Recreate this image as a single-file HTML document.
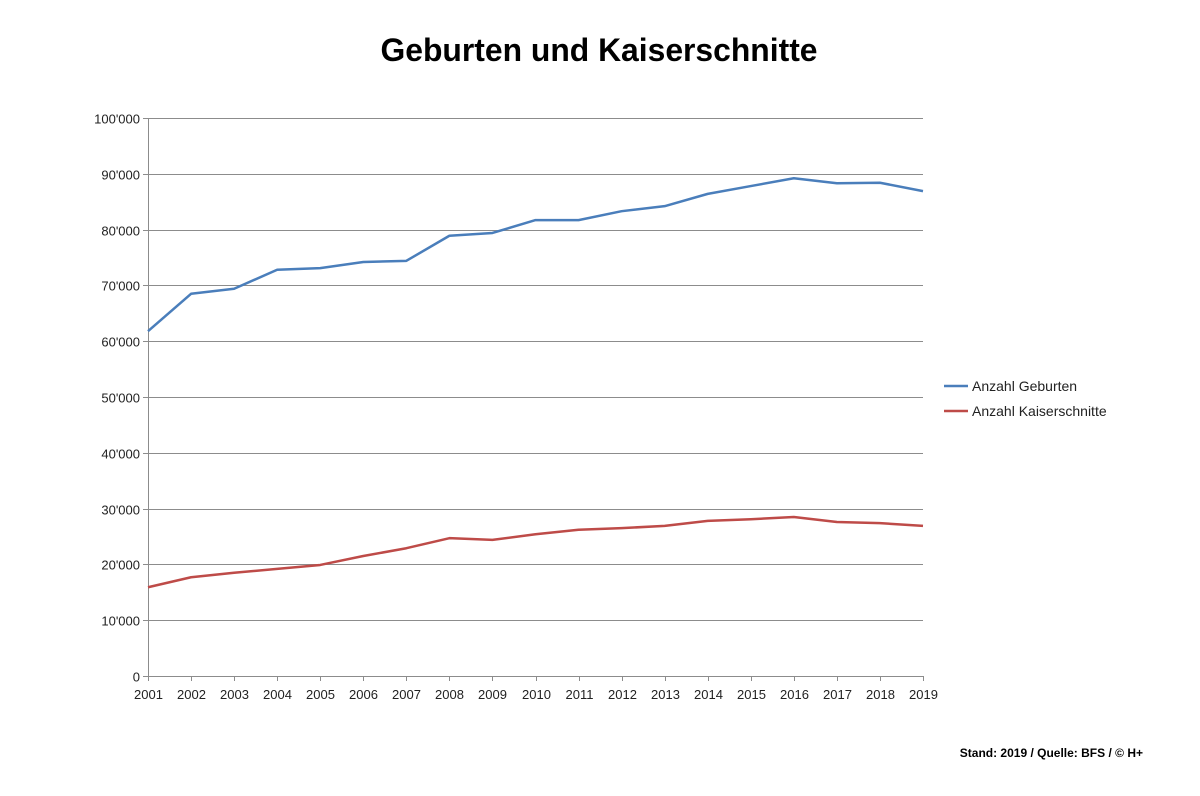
<!DOCTYPE html>
<html><head><meta charset="utf-8"><style>
html,body{margin:0;padding:0;background:#fff;}
svg{display:block;font-family:"Liberation Sans",sans-serif;}
</style></head><body>
<svg id="chart" width="1200" height="796" viewBox="0 0 1200 796">
<text x="599" y="61" text-anchor="middle" font-size="32" font-weight="bold" textLength="437" lengthAdjust="spacingAndGlyphs" fill="#000">Geburten und Kaiserschnitte</text>
<g id="grid"></g><g id="axes"></g><g id="series"></g>
<g>
<line x1="944" y1="386" x2="968" y2="386" stroke="#4a7ebb" stroke-width="2.5"/>
<text x="972" y="391" font-size="14" fill="#222">Anzahl Geburten</text>
<line x1="944" y1="411" x2="968" y2="411" stroke="#be4b48" stroke-width="2.5"/>
<text x="972" y="416" font-size="14" fill="#222">Anzahl Kaiserschnitte</text>
</g>
<text x="1143" y="757" text-anchor="end" font-size="12" font-weight="bold" fill="#000">Stand: 2019 / Quelle: BFS / © H+</text>
</svg>
<script>
const years = [2001,2002,2003,2004,2005,2006,2007,2008,2009,2010,2011,2012,2013,2014,2015,2016,2017,2018,2019];
const births = [61800,68500,69400,72800,73100,74200,74400,78900,79400,81700,81700,83300,84200,86400,87800,89200,88300,88400,86900];
const caesareans = [15900,17700,18500,19200,19900,21500,22900,24700,24400,25400,26200,26500,26900,27800,28100,28500,27600,27400,26900];
const yTicks = [0,10000,20000,30000,40000,50000,60000,70000,80000,90000,100000];
const yTickLabels = ["0","10'000","20'000","30'000","40'000","50'000","60'000","70'000","80'000","90'000","100'000"];

const NS="http://www.w3.org/2000/svg";
const X0=148,X1=923,Y0=676,Y1=118;
const xs=i=>X0+(X1-X0)*i/(years.length-1);
const ys=v=>Y0-(Y0-Y1)*v/100000;
function mk(tag,attrs,parent){const e=document.createElementNS(NS,tag);for(const k in attrs)e.setAttribute(k,attrs[k]);parent.appendChild(e);return e;}
const grid=document.getElementById('grid'),axes=document.getElementById('axes'),ser=document.getElementById('series');
yTicks.forEach((t,i)=>{
  const y=Math.round(ys(t))+0.5;
  if(t>0){const g=mk('line',{x1:X0,x2:X1,y1:y,y2:y,stroke:'#8c8c8c','stroke-width':1},grid);
  
  }
  const tk=mk('line',{x1:X0-5,x2:X0,y1:y,y2:y,stroke:'#8c8c8c'},axes);
  
  
  const tx=mk('text',{x:X0-8,y:y+5,'text-anchor':'end','font-size':13,fill:'#222'},axes);
  tx.textContent=yTickLabels[i];
  
  
});
const ya=mk('line',{x1:X0+0.5,x2:X0+0.5,y1:Y1,y2:Y0,stroke:'#8c8c8c'},axes);


const xa=mk('line',{x1:X0,x2:X1,y1:Y0+0.5,y2:Y0+0.5,stroke:'#8c8c8c'},axes);


years.forEach((yr,i)=>{
  const x=Math.round(xs(i))+0.5;
  const tk=mk('line',{x1:x,x2:x,y1:Y0,y2:Y0+5,stroke:'#8c8c8c'},axes);
  
  
  const tx=mk('text',{x:x,y:Y0+23,'text-anchor':'middle','font-size':13,fill:'#222'},axes);
  tx.textContent=yr;
  
  
});
function line(vals,color,name){
  const p=mk('polyline',{points:vals.map((v,i)=>xs(i)+','+ys(v)).join(' '),fill:'none',stroke:color,'stroke-width':2.5,'stroke-linejoin':'round'},ser);
  
  
}
line(births,'#4a7ebb','births-line');
line(caesareans,'#be4b48','caesarean-line');
</script>
</body></html>
